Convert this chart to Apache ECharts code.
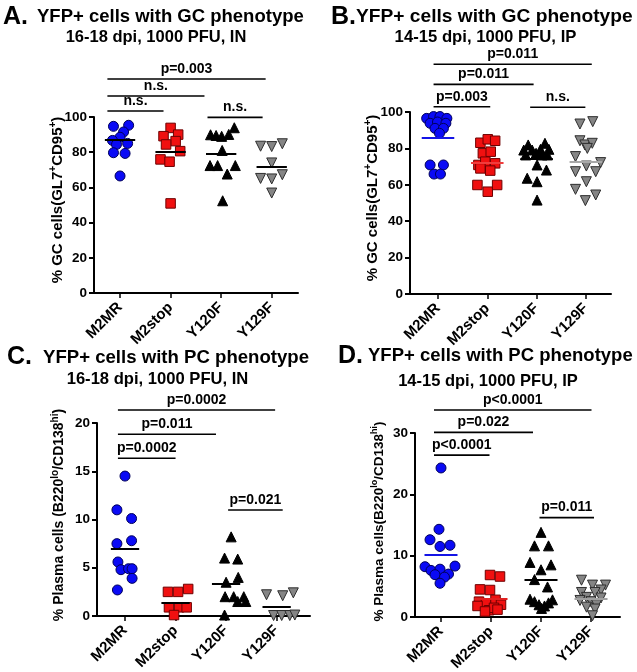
<!DOCTYPE html>
<html><head><meta charset="utf-8">
<script src="https://cdn.jsdelivr.net/npm/echarts@6/dist/echarts.min.js"></script>
<style>html,body{margin:0;padding:0;background:#fff}#c{width:637px;height:672px}</style>
</head><body><div id="c"></div>
<script>
const categories = ['M2MR', 'M2stop', 'Y120F', 'Y129F'];

// ---- Panel A: GC phenotype, 16-18 dpi IN ----
const A_values = [
  [94.7, 95.3, 91.5, 88.5, 86.7, 85.0, 84.4, 79.7, 79.3, 66.5],
  [93.8, 89.1, 90.0, 86.3, 84.4, 80.6, 75.9, 74.6, 50.9],
  [89.9, 89.5, 89.0, 90.1, 93.9, 81.0, 72.4, 72.4, 72.4, 67.6, 52.4],
  [83.4, 83.2, 84.8, 73.9, 65.1, 64.8, 67.2, 56.8]
];
const A_jitter = [
  [-0.13, 0.17, 0.07, 0.0, -0.15, 0.15, -0.07, -0.13, 0.10, 0.0],
  [0.0, -0.14, 0.15, 0.10, -0.09, 0.19, -0.20, -0.02, 0.0],
  [-0.21, -0.10, 0.01, 0.15, 0.26, 0.02, -0.22, -0.07, 0.28, 0.12, 0.03],
  [-0.22, 0.0, 0.21, 0.0, -0.22, 0.0, 0.21, 0.0]
];
const A_means = [87, 80.5, 79, 72];
const A_sig = [[0.75, 1.86, 103.4, 'n.s.'], [0.75, 2.67, 111.9, 'n.s.'], [0.75, 3.88, 121.6, 'p=0.003'], [2.73, 3.82, 99.8, 'n.s.']];

// ---- Panel B: GC phenotype, 14-15 dpi IP ----
const B_values = [
  [96.5, 97.5, 97.5, 96.5, 93.8, 94.5, 93.8, 91.0, 91.0, 88.3, 70.9, 70.9, 65.9, 65.9],
  [83.1, 85.0, 84.2, 77.3, 78.2, 70.9, 72.7, 71.8, 69.0, 67.8, 59.9, 56.2, 59.9],
  [79.1, 81.9, 79.1, 76.4, 79.5, 82.8, 79.5, 76.4, 77.3, 76.4, 70.9, 68.1, 63.6, 61.7, 51.6],
  [93.4, 94.7, 84.2, 81.9, 82.8, 80.0, 75.5, 70.3, 72.2, 67.2, 67.2, 61.7, 57.5, 54.4, 51.3]
];
const B_jitter = [
  [-0.23, -0.09, 0.04, 0.18, -0.16, -0.01, 0.16, -0.06, 0.11, 0.03, -0.16, 0.11, -0.08, 0.05],
  [-0.14, 0.01, 0.16, -0.09, 0.07, -0.18, -0.04, 0.16, -0.14, 0.06, -0.20, 0.01, 0.20],
  [-0.26, -0.17, -0.09, -0.22, 0.08, 0.17, 0.25, 0.22, -0.01, 0.11, 0.01, 0.20, -0.19, 0.01, 0.01],
  [-0.12, 0.14, -0.12, -0.02, 0.13, 0.03, -0.21, 0.01, 0.30, -0.21, 0.20, 0.01, -0.21, 0.20, -0.01]
];
const B_means = [86, 72, 74.5, 72.5];
const B_sig = [[0.91, 2.06, 102.9, 'p=0.003'], [0.91, 2.94, 115.2, 'p=0.011'], [0.91, 4.12, 126.2, 'p=0.011'], [2.87, 3.99, 102.6, 'n.s.']];

// ---- Panel C: PC phenotype, 16-18 dpi IN ----
const C_values = [
  [14.5, 11.0, 10.1, 7.5, 7.8, 5.6, 4.8, 4.9, 4.9, 3.9, 2.7],
  [2.5, 2.5, 2.8, 0.9, 0.9, 0.9, 0.1],
  [8.2, 6.0, 5.9, 3.5, 4.0, 2.0, 2.0, 2.0, 1.5, 1.5, 0.1],
  [2.2, 2.1, 2.4, 0.05, 0.05, 0.05, 0.1]
];
const C_jitter = [
  [0.0, -0.16, 0.13, -0.16, 0.13, -0.14, -0.08, 0.07, 0.14, 0.14, -0.15],
  [-0.15, 0.05, 0.25, -0.13, 0.07, 0.22, -0.03],
  [0.10, -0.03, 0.23, 0.0, 0.24, -0.02, 0.15, 0.35, 0.23, 0.39, -0.03],
  [-0.20, 0.12, 0.33, -0.06, 0.10, 0.26, 0.36]
];
const C_means = [7.0, 1.4, 3.3, 0.95];
const C_sig = [[0.86, 2.0, 16.34, 'p=0.0002'], [0.86, 2.8, 18.83, 'p=0.011'], [0.86, 3.97, 21.35, 'p=0.0002'], [3.04, 4.12, 10.98, 'p=0.021']];

// ---- Panel D: PC phenotype, 14-15 dpi IP ----
const D_values = [
  [24.3, 14.3, 12.6, 11.5, 11.7, 8.2, 8.3, 7.6, 7.8, 7.0, 6.9, 6.5, 5.5],
  [6.85, 6.6, 4.5, 4.4, 2.5, 2.2, 2.8, 2.0, 1.8, 1.1, 1.5, 0.9, 1.2],
  [13.8, 11.6, 11.6, 8.9, 7.7, 8.5, 6.1, 4.9, 2.9, 2.5, 2.0, 1.8, 2.3, 2.8, 1.4],
  [6.0, 5.2, 5.2, 4.4, 4.0, 4.0, 3.2, 3.1, 2.7, 2.5, 2.0, 1.6, 1.3, 0.2]
];
const D_jitter = [
  [0.0, -0.04, -0.22, -0.02, 0.18, -0.32, 0.28, -0.20, -0.02, 0.15, -0.12, 0.07, -0.02],
  [-0.02, 0.18, -0.22, -0.02, -0.24, -0.10, 0.09, 0.20, -0.27, -0.04, 0.06, -0.12, 0.13],
  [0.0, -0.13, 0.15, -0.22, 0.0, 0.20, -0.13, 0.13, -0.22, -0.13, -0.04, 0.07, 0.15, 0.23, 0.01],
  [-0.19, 0.03, 0.29, 0.20, -0.19, 0.08, -0.09, 0.20, -0.22, 0.0, 0.11, -0.09, 0.08, 0.03]
];
const D_means = [10.2, 2.9, 6.0, 2.9];
const D_sig = [[0.86, 1.97, 26.4, 'p<0.0001'], [0.86, 2.84, 30.1, 'p=0.022'], [0.86, 4.01, 33.75, 'p<0.0001'], [2.97, 4.06, 16.2, 'p=0.011']];

const FONT = '"Liberation Sans", Arial, Helvetica, sans-serif';

const groupStyles = [
  { symbol: 'circle', size: 10, rotate: 0, color: '#0a0af5', border: '#00005a' },
  { symbol: 'rect', size: 9.5, rotate: 0, color: '#f01010', border: '#6e0000' },
  { symbol: 'triangle', size: 10, rotate: 0, color: '#000000', border: '#000000' },
  { symbol: 'triangle', size: 10, rotate: 180, color: '#858585', border: '#2e2e2e' }
];

const panels = [
  { values: A_values, jitter: A_jitter, means: A_means, sig: A_sig,
    grid: { left: 94, top: 117, width: 204, height: 176 }, xmin: 0.485, xmax: 4.52, ymax: 100, yint: 20,
    name: '{a|% GC cells(GL7}{s|+}{a|CD95}{s|+}{a|)}', nameGap: 27, nameSize: 15, namePad: 10, halfW: 0.3,
    meanColors: ['#000', '#000', '#000', '#000'] },
  { values: B_values, jitter: B_jitter, means: B_means, sig: B_sig,
    grid: { left: 410, top: 112, width: 201, height: 182 }, xmin: 0.432, xmax: 4.51, ymax: 100, yint: 20,
    name: '{a|% GC cells(GL7}{s|+}{a|CD95}{s|+}{a|)}', nameGap: 28, nameSize: 15, namePad: 10, halfW: 0.33,
    meanColors: ['#1414e6', '#f03c3c', '#000', '#a8a8a8'] },
  { values: C_values, jitter: C_jitter, means: C_means, sig: C_sig,
    grid: { left: 97, top: 423, width: 213, height: 193 }, xmin: 0.446, xmax: 4.66, ymax: 20, yint: 5,
    name: '{a|% Plasma cells (B220}{s|lo}{a|/CD138}{s|hi}{a|)}', nameGap: 29, nameSize: 14, namePad: 9, halfW: 0.28,
    meanColors: ['#000', '#000', '#000', '#000'] },
  { values: D_values, jitter: D_jitter, means: D_means, sig: D_sig,
    grid: { left: 415, top: 433, width: 205, height: 184 }, xmin: 0.48, xmax: 4.58, ymax: 30, yint: 10,
    name: '{a|% Plasma cells(B220}{s|lo}{a|/CD138}{s|hi}{a|)}', nameGap: 27, nameSize: 13.5, namePad: 7, halfW: 0.33,
    meanColors: ['#1414e6', '#e02020', '#000', '#a0a0a0'] }
];

const grids = [], xAxes = [], yAxes = [], series = [];
panels.forEach((p, i) => {
  grids.push(Object.assign({ containLabel: false, outerBoundsMode: 'none' }, p.grid));
  xAxes.push({
    type: 'value', gridIndex: i, min: p.xmin, max: p.xmax,
    splitLine: { show: false },
    axisLine: { show: true, onZero: false, lineStyle: { color: '#000', width: 2 } },
    axisTick: { show: true, customValues: [1, 2, 3, 4], length: 5, lineStyle: { color: '#000', width: 1.5 } },
    axisLabel: { show: true, customValues: [1, 2, 3, 4], formatter: v => categories[Math.round(v) - 1],
      rotate: 45, margin: 12, color: '#000', fontWeight: 'bold', fontSize: 15, fontFamily: FONT }
  });
  yAxes.push({
    type: 'value', gridIndex: i, min: 0, max: p.ymax, interval: p.yint,
    splitLine: { show: false },
    axisLine: { show: true, onZero: false, lineStyle: { color: '#000', width: 2 } },
    axisTick: { show: true, length: 5, lineStyle: { color: '#000', width: 2 } },
    axisLabel: { color: '#000', fontWeight: 'bold', fontSize: 13.5, margin: 7, fontFamily: FONT },
    name: p.name, nameLocation: 'middle', nameGap: p.nameGap, nameRotate: 90, nameMoveOverlap: false,
    nameTextStyle: {
      padding: [0, 0, 0, p.namePad],
      rich: {
        a: { fontSize: p.nameSize, fontWeight: 'bold', color: '#000', fontFamily: FONT, lineHeight: p.nameSize + 4 },
        s: { fontSize: Math.round(p.nameSize * 0.68), fontWeight: 'bold', color: '#000', fontFamily: FONT, verticalAlign: 'top', lineHeight: p.nameSize + 4 }
      }
    }
  });
  p.values.forEach((vals, g) => {
    const st = groupStyles[g];
    series.push({
      type: 'scatter', name: categories[g], xAxisIndex: i, yAxisIndex: i, clip: false,
      symbol: st.symbol, symbolSize: st.size, symbolRotate: st.rotate,
      itemStyle: { color: st.color, borderColor: st.border, borderWidth: 1, opacity: 1 },
      data: vals.map((v, k) => [g + 1 + p.jitter[g][k], v]),
      markLine: {
        silent: true, animation: false, symbol: ['none', 'none'], label: { show: false },
        lineStyle: { color: p.meanColors[g], width: 2, type: 'solid' },
        data: [[{ coord: [g + 1 - p.halfW, p.means[g]] }, { coord: [g + 1 + p.halfW, p.means[g]] }]]
      }
    });
  });
});

const chart = echarts.init(document.getElementById('c'), null, { renderer: 'canvas' });
chart.setOption({
  animation: false, backgroundColor: '#fff',
  grid: grids, xAxis: xAxes, yAxis: yAxes, series: series
});

const titles = [
  { letter: 'A.', lx: 3, title: 'YFP+ cells with GC phenotype', tx: 37, ty: 17, tsize: 18.5,
    sub: '16-18 dpi, 1000 PFU, IN', sx: 156, sy: 37.5, ssize: 16.5 },
  { letter: 'B.', lx: 331, title: 'YFP+ cells with GC phenotype', tx: 356, ty: 17, tsize: 19.2,
    sub: '14-15 dpi, 1000 PFU, IP', sx: 485.5, sy: 37.5, ssize: 16.7 },
  { letter: 'C.', lx: 7, title: 'YFP+ cells with PC phenotype', tx: 43, ty: 357.5, tsize: 18.6,
    sub: '16-18 dpi, 1000 PFU, IN', sx: 157.5, sy: 379, ssize: 16.6 },
  { letter: 'D.', lx: 338, title: 'YFP+ cells with PC phenotype', tx: 368, ty: 356, tsize: 18.5,
    sub: '14-15 dpi, 1000 PFU, IP', sx: 488, sy: 381, ssize: 16.5 }
];

function txt(text, x, y, size, align, valign) {
  return { type: 'text', x: x, y: y, silent: true,
    style: { text: text, font: 'bold ' + size + 'px ' + FONT, fill: '#000',
      textAlign: align, textVerticalAlign: valign, align: align, verticalAlign: valign } };
}

const gfx = [];
titles.forEach(t => {
  gfx.push(txt(t.letter, t.lx, t.ty, 25, 'left', 'middle'));
  gfx.push(txt(t.title, t.tx, t.ty, t.tsize, 'left', 'middle'));
  gfx.push(txt(t.sub, t.sx, t.sy, t.ssize, 'center', 'middle'));
});
panels.forEach((p, i) => {
  p.sig.forEach(s => {
    const a = chart.convertToPixel({ xAxisIndex: i, yAxisIndex: i }, [s[0], s[2]]);
    const b = chart.convertToPixel({ xAxisIndex: i, yAxisIndex: i }, [s[1], s[2]]);
    gfx.push({ type: 'line', silent: true, shape: { x1: a[0], y1: a[1], x2: b[0], y2: b[1] },
      style: { stroke: '#000', lineWidth: 1.6 } });
    gfx.push(txt(s[3], (a[0] + b[0]) / 2, a[1] - 3, 14, 'center', 'bottom'));
  });
});
chart.setOption({ graphic: gfx });
</script></body></html>
